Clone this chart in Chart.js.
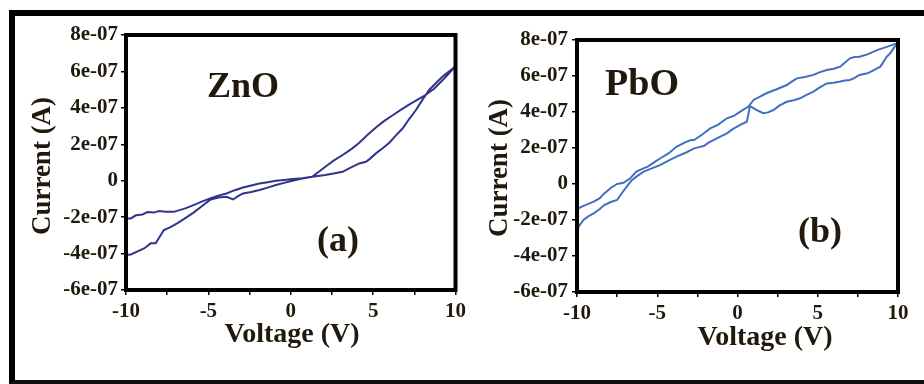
<!DOCTYPE html>
<html>
<head>
<meta charset="utf-8">
<script src="https://cdn.jsdelivr.net/npm/chart.js"></script>
<style>
body{margin:0;background:#fff;width:924px;height:384px;position:relative;overflow:hidden;}
#marco{position:absolute;left:9px;top:10px;width:915px;height:374px;box-sizing:border-box;border-left:6px solid #000;border-top:6px solid #000;border-bottom:4px solid #111;}
canvas{position:absolute;top:0;}
#grafA{left:0;}
#grafB{left:470px;}
</style>
</head>
<body>
<div id="marco"></div>
<canvas id="grafA" width="470" height="384"></canvas>
<canvas id="grafB" width="454" height="384"></canvas>
<script>
// datos (ciclo completo I-V)
const voltajeZnO=[-10,-9.7,-9.3,-8.9,-8.5,-8.2,-7.7,-7.3,-6.9,-6.4,-5.9,-5.4,-4.9,-4.4,-3.9,-3.5,-3.2,-2.9,-2.4,-1.9,-1.4,-0.9,-0.4,0.1,0.7,1.3,
2.1,2.6,3.15,3.7,4.16,4.7,5.17,5.7,6.17,6.7,7.18,7.7,8.2,8.7,9.3,10,
9.6,9.2,8.8,8.4,8.0,7.6,7.2,6.8,6.4,6.0,5.6,5.17,4.8,4.56,4.16,3.6,3.15,2.6,2.1,1.3,
0.7,0.1,-0.4,-0.9,-1.4,-1.9,-2.4,-2.9,-3.4,-3.9,-4.4,-4.9,-5.4,-5.9,-6.4,-7.1,-7.6,-8.0,-8.3,-8.7,-9.0,-9.4,-9.7,-10,-10];
const corrienteZnO=[-4.08e-7,-4.05e-7,-3.88e-7,-3.72e-7,-3.44e-7,-3.44e-7,-2.71e-7,-2.55e-7,-2.34e-7,-2.05e-7,-1.75e-7,-1.40e-7,-1.05e-7,-0.92e-7,-0.88e-7,-1.03e-7,-0.85e-7,-0.70e-7,-0.62e-7,-0.51e-7,-0.38e-7,-0.24e-7,-0.12e-7,0,0.12e-7,0.22e-7,
0.77e-7,1.10e-7,1.41e-7,1.75e-7,2.08e-7,2.55e-7,2.92e-7,3.30e-7,3.58e-7,3.90e-7,4.18e-7,4.45e-7,4.72e-7,5.05e-7,5.60e-7,6.28e-7,
6.00e-7,5.71e-7,5.35e-7,4.98e-7,4.45e-7,3.88e-7,3.40e-7,2.88e-7,2.50e-7,2.10e-7,1.80e-7,1.50e-7,1.20e-7,1.04e-7,0.95e-7,0.70e-7,0.49e-7,0.40e-7,0.31e-7,0.22e-7,
0.14e-7,0.09e-7,0.04e-7,0,-0.08e-7,-0.15e-7,-0.26e-7,-0.37e-7,-0.52e-7,-0.70e-7,-0.82e-7,-0.97e-7,-1.15e-7,-1.34e-7,-1.52e-7,-1.71e-7,-1.71e-7,-1.66e-7,-1.75e-7,-1.72e-7,-1.85e-7,-1.90e-7,-2.07e-7,-2.07e-7,-4.08e-7];

const voltajePbO=[-10,-9.8,-9.4,-8.96,-8.6,-8.3,-7.9,-7.5,-7.1,-6.7,-6.3,-5.9,-5.6,-5.2,-4.8,-4.3,-3.8,-3.3,-2.9,-2.7,-2.2,-1.7,-1.2,-0.66,-0.2,0.17,0.68,1.0,1.4,1.8,2.4,3.07,3.4,3.7,4.2,4.73,5.1,5.56,6.0,6.4,6.7,7.0,7.3,7.6,8.1,8.7,9.3,9.9,10,
9.8,9.5,9.3,8.9,8.5,8.1,7.6,7.3,7.0,6.7,6.4,6.0,5.56,5.1,4.73,4.3,3.9,3.5,3.07,2.6,2.24,1.9,1.6,1.2,0.78,0.58,0.17,-0.3,-0.66,-1.1,-1.5,-1.8,-2.1,-2.4,-2.7,-3.2,-3.8,-4.3,-4.8,-5.3,-5.85,-6.3,-6.6,-6.9,-7.2,-7.5,-7.9,-8.3,-8.6,-8.96,-9.3,-9.6,-9.9,-10,-10];
const corrientePbO=[-1.44e-7,-1.30e-7,-1.15e-7,-0.98e-7,-0.80e-7,-0.52e-7,-0.22e-7,0,0.07e-7,0.30e-7,0.69e-7,0.85e-7,0.96e-7,1.20e-7,1.43e-7,1.70e-7,2.07e-7,2.30e-7,2.44e-7,2.44e-7,2.75e-7,3.09e-7,3.30e-7,3.65e-7,3.80e-7,4.02e-7,4.30e-7,4.67e-7,4.85e-7,5.04e-7,5.25e-7,5.50e-7,5.70e-7,5.87e-7,5.95e-7,6.06e-7,6.20e-7,6.33e-7,6.40e-7,6.52e-7,6.75e-7,6.98e-7,7.05e-7,7.07e-7,7.20e-7,7.44e-7,7.62e-7,7.81e-7,7.85e-7,
7.63e-7,7.25e-7,7.07e-7,6.52e-7,6.33e-7,6.15e-7,6.06e-7,5.90e-7,5.78e-7,5.75e-7,5.69e-7,5.62e-7,5.59e-7,5.35e-7,5.13e-7,4.95e-7,4.76e-7,4.65e-7,4.57e-7,4.35e-7,4.11e-7,3.98e-7,3.93e-7,4.11e-7,4.33e-7,3.46e-7,3.28e-7,3.05e-7,2.81e-7,2.62e-7,2.44e-7,2.30e-7,2.11e-7,2.05e-7,1.98e-7,1.75e-7,1.52e-7,1.30e-7,1.06e-7,0.88e-7,0.69e-7,0.41e-7,0.20e-7,-0.15e-7,-0.50e-7,-0.89e-7,-1.00e-7,-1.17e-7,-1.40e-7,-1.63e-7,-1.80e-7,-2.00e-7,-2.37e-7,-2.90e-7,-1.44e-7];

const etiquetasX=["-10","","-5","","0","","5","","10"];
const etiquetasY=["-6e-07","-4e-07","-2e-07","0","2e-07","4e-07","6e-07","8e-07"];

const colorTexto="#22190d";
const fuente="'Liberation Serif','Times New Roman',serif";

const marcoYTextos={
    id:"marcoYTextos",
    afterDatasetsDraw(chart){
        const a=chart.chartArea;
        const ctx=chart.ctx;
        ctx.save();
        ctx.strokeStyle="#000";
        ctx.lineWidth=4;
        ctx.strokeRect(a.left,a.top,a.right-a.left,a.bottom-a.top);
        ctx.restore();
    },
    afterDraw(chart,args,opts){
        const ctx=chart.ctx;
        ctx.save();
        ctx.fillStyle=colorTexto;
        ctx.textAlign="center";
        ctx.textBaseline="middle";
        opts.textos.forEach(t=>{
            ctx.save();
            ctx.font="bold "+t.size+"px "+fuente;
            ctx.translate(t.x,t.y);
            if(t.rot) ctx.rotate(-Math.PI/2);
            ctx.fillText(t.t,0,0);
            ctx.restore();
        });
        ctx.restore();
    }
};

function crearGrafico(id,volt,corr,color,geo,textos){

    const puntos=volt.map((v,i)=>({x:v,y:corr[i]}));

    return new Chart(document.getElementById(id),{

        type:"scatter",

        data:{
            datasets:[{
                data:puntos,
                showLine:true,
                borderColor:color,
                borderWidth:2,
                pointRadius:0,
                tension:0
            }]
        },

        options:{
            responsive:false,
            animation:false,
            devicePixelRatio:1,
            layout:{padding:{left:0,right:geo.right,top:geo.top,bottom:0}},
            plugins:{
                legend:{display:false},
                tooltip:{enabled:false},
                marcoYTextos:{textos:textos}
            },
            scales:{
                x:{
                    type:"linear",
                    min:-10,
                    max:10,
                    afterFit:s=>{s.height=geo.alto;},
                    ticks:{
                        stepSize:2.5,
                        autoSkip:false,
                        maxRotation:0,
                        padding:4,
                        color:colorTexto,
                        font:{family:fuente,size:21,weight:"bold"},
                        callback:(v,i)=>etiquetasX[i]
                    },
                    grid:{drawOnChartArea:false,tickLength:5,color:"#000",lineWidth:1.5},
                    border:{display:false}
                },
                y:{
                    type:"linear",
                    min:-6e-7,
                    max:8e-7,
                    afterFit:s=>{s.width=geo.ancho;},
                    ticks:{
                        stepSize:2e-7,
                        autoSkip:false,
                        padding:geo.pad,
                        color:colorTexto,
                        font:{family:fuente,size:21,weight:"bold"},
                        callback:(v,i)=>etiquetasY[i]
                    },
                    grid:{drawOnChartArea:false,tickLength:5,color:"#000",lineWidth:1.5},
                    border:{display:false}
                }
            }
        },

        plugins:[marcoYTextos]

    });

}

crearGrafico("grafA",voltajeZnO,corrienteZnO,"#30348c",
    {right:13,top:35,alto:94,ancho:126,pad:3},
    [
        {t:"Current (A)",x:43,y:166,size:27,rot:true},
        {t:"Voltage (V)",x:292,y:335,size:28},
        {t:"ZnO",x:243,y:88,size:36},
        {t:"(a)",x:338,y:242,size:36}
    ]);

crearGrafico("grafB",voltajePbO,corrientePbO,"#416fc2",
    {right:26,top:40,alto:92,ancho:107,pad:4},
    [
        {t:"Current (A)",x:30,y:168,size:27,rot:true},
        {t:"Voltage (V)",x:295,y:338,size:28},
        {t:"PbO",x:172,y:85,size:38},
        {t:"(b)",x:350,y:233,size:36}
    ]);
</script>
</body>
</html>
